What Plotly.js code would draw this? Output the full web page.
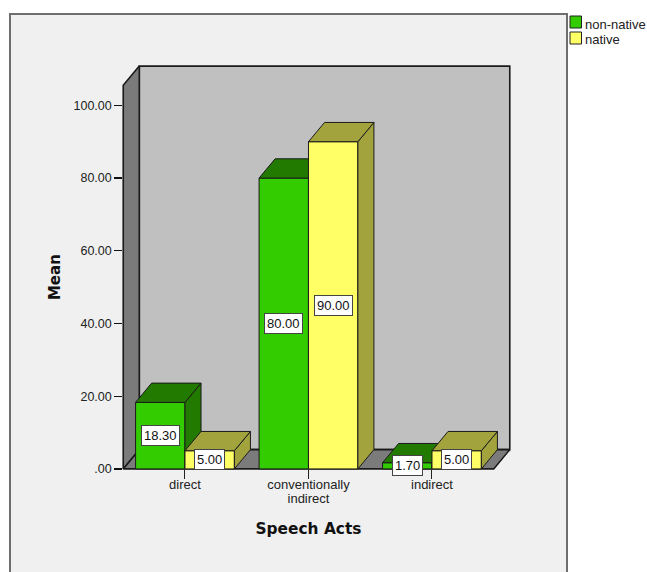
<!DOCTYPE html>
<html>
<head>
<meta charset="utf-8">
<script src="https://cdn.plot.ly/plotly-3.0.1.min.js"></script>
<style>html,body{margin:0;padding:0;background:#fff;overflow:hidden}#chart{width:647px;height:572px}</style>
</head>
<body>
<div id="chart"></div>
<script>
// Mean percentage of each speech act, by speaker group
const categories = ['direct', 'conventionally<br>indirect', 'indirect'];
const nonNative = [18.30, 80.00, 1.70];
const native = [5.00, 90.00, 5.00];
const yTickValues = [0, 20, 40, 60, 80, 100];
const yTickLabels = ['.00', '20.00', '40.00', '60.00', '80.00', '100.00'];

// Fake 3D: how far the receding faces shift, in axis units
const DEPTH_X = 0.13;
const DEPTH_Y = 5.3;
const BAR_WIDTH = 0.4;
const X_RANGE = [-0.5, 2.5];
const Y_RANGE = [0, 105.5];
// A little slack around the box so its outline is not cut by the plot clip
const PAD_X = 0.01;
const PAD_Y = 0.3;
const X_FULL = [X_RANGE[0] - PAD_X, X_RANGE[1] + DEPTH_X + PAD_X];
const Y_FULL = [Y_RANGE[0] - PAD_Y, Y_RANGE[1] + DEPTH_Y + PAD_Y];

const FONT = 'Liberation Sans, Arial, sans-serif';
const TITLE_FONT = 'DejaVu Sans, Verdana, sans-serif';
const EDGE = '#1a1a1a';

const margin = {l: 122, r: 136, t: 65, b: 102, pad: 0};
const W = 647, H = 572;
const paperX = px => (px - margin.l) / (W - margin.l - margin.r);
const paperY = py => (H - margin.b - py) / (H - margin.t - margin.b);

const positions = categories.map((_, i) => i);

// One closed polygon per entry, separated by gaps, as a filled scatter trace
function polygons(list, fill, xa, ya, lineWidth) {
  const x = [], y = [];
  list.forEach(p => {
    p.forEach(q => { x.push(q[0]); y.push(q[1]); });
    x.push(p[0][0]); y.push(p[0][1]);
    x.push(null); y.push(null);
  });
  return {
    type: 'scatter', mode: 'lines', x, y, xaxis: xa, yaxis: ya,
    fill: 'toself', fillcolor: fill,
    line: {color: EDGE, width: lineWidth || 1, shape: 'linear'},
    hoverinfo: 'skip', showlegend: false, cliponaxis: false
  };
}

// The front-plane axes only carry ticks and titles
const axisCarrier = {
  type: 'scatter', mode: 'none', x: positions, y: nonNative,
  xaxis: 'x', yaxis: 'y', hoverinfo: 'skip', showlegend: false
};

// Back wall, side wall and floor of the box
const [x0, x1] = X_RANGE;
const yTop = Y_RANGE[1];
const shell = [
  polygons([[[x0 + DEPTH_X, DEPTH_Y], [x1 + DEPTH_X, DEPTH_Y], [x1 + DEPTH_X, yTop + DEPTH_Y], [x0 + DEPTH_X, yTop + DEPTH_Y]]], '#c0c0c0', 'x2', 'y2', 1.6),
  polygons([[[x0, 0], [x0 + DEPTH_X, DEPTH_Y], [x0 + DEPTH_X, yTop + DEPTH_Y], [x0, yTop]]], '#7b7b7b', 'x2', 'y2', 1.6),
  polygons([[[x0, 0], [x1, 0], [x1 + DEPTH_X, DEPTH_Y], [x0 + DEPTH_X, DEPTH_Y]]], '#7b7b7b', 'x2', 'y2', 1.6)
];

// A bar series: front faces from a bar trace, top and side faces from polygons
function series(name, values, offset, front, shade, xa, ya) {
  const tops = [], sides = [];
  values.forEach((v, i) => {
    const l = i + offset, r = l + BAR_WIDTH;
    tops.push([[l, v], [r, v], [r + DEPTH_X, v + DEPTH_Y], [l + DEPTH_X, v + DEPTH_Y]]);
    sides.push([[r, 0], [r + DEPTH_X, DEPTH_Y], [r + DEPTH_X, v + DEPTH_Y], [r, v]]);
  });
  return [
    {
      type: 'bar', name, x: positions, y: values, xaxis: xa, yaxis: ya,
      width: BAR_WIDTH, offset,
      marker: {color: front, line: {color: EDGE, width: 1}},
      hoverinfo: 'skip', showlegend: false, cliponaxis: false
    },
    polygons(sides, shade, xa, ya),
    polygons(tops, shade, xa, ya)
  ];
}

const data = [axisCarrier].concat(
  shell,
  series('non-native', nonNative, -BAR_WIDTH, '#33cc00', '#227a00', 'x3', 'y3'),
  series('native', native, 0, '#ffff66', '#a3a33d', 'x4', 'y4')
);

// Value tags centred on each front face
const valueTag = (v, i, offset) => ({
  x: i + offset + BAR_WIDTH / 2, y: v / 2, xref: 'x', yref: 'y',
  text: v.toFixed(2), showarrow: false,
  font: {family: FONT, size: 13, color: '#111'},
  bgcolor: '#ffffff', bordercolor: '#444', borderwidth: 1, borderpad: 2
});

// Legend block beside the frame
const legendItems = [['non-native', '#33cc00', 16], ['native', '#ffff66', 32]];
const legendShapes = legendItems.map(([, color, top]) => ({
  type: 'rect', xref: 'paper', yref: 'paper', layer: 'above',
  x0: paperX(570), x1: paperX(581.5), y0: paperY(top), y1: paperY(top + 12),
  fillcolor: color, line: {color: '#222', width: 1}
}));
const legendLabels = legendItems.map(([label, , top]) => ({
  x: paperX(583), y: paperY(top + 8), xref: 'paper', yref: 'paper',
  xanchor: 'left', yanchor: 'middle', text: label, showarrow: false,
  font: {family: FONT, size: 13, color: '#222'}
}));

// Invisible axes spanning the whole box, including the receding faces
const depthX = overlay => Object.assign({range: X_FULL, visible: false, fixedrange: true, domain: [0, 1]}, overlay);
const depthY = overlay => Object.assign({range: Y_FULL, visible: false, fixedrange: true, domain: [0, 1]}, overlay);

// Position of a value inside the full box, as a fraction of the plot area
const fraction = (v, r) => (v - r[0]) / (r[1] - r[0]);

const layout = {
  width: W, height: H, margin,
  paper_bgcolor: '#ffffff', plot_bgcolor: 'rgba(0,0,0,0)',
  showlegend: false,
  barmode: 'overlay',
  xaxis: {
    domain: X_RANGE.map(v => fraction(v, X_FULL)),
    range: X_RANGE, tickmode: 'array', tickvals: positions,
    // the small base size sets the tight spacing of the wrapped label
    ticktext: categories.map(c => c.split('<br>').map(s => '<span style="font-size:13px">' + s + '</span>').join('<br>')),
    ticks: 'outside', ticklen: 9, tickwidth: 1, tickcolor: '#222', ticklabelstandoff: -3,
    showgrid: false, zeroline: false, showline: false, fixedrange: true,
    tickfont: {family: FONT, size: 10.8, color: '#222'},
    title: {text: 'Speech Acts', standoff: 18, font: {family: TITLE_FONT, size: 15.4, color: '#111', weight: 700}}
  },
  yaxis: {
    domain: Y_RANGE.map(v => fraction(v, Y_FULL)),
    range: Y_RANGE, tickmode: 'array', tickvals: yTickValues, ticktext: yTickLabels,
    ticks: 'outside', ticklen: 8, tickwidth: 1.2, tickcolor: '#111',
    showgrid: false, zeroline: false, showline: false, fixedrange: true,
    tickfont: {family: FONT, size: 12.5, color: '#222'},
    title: {text: 'Mean', standoff: 9, font: {family: TITLE_FONT, size: 15, color: '#111', weight: 700}}
  },
  xaxis2: depthX({anchor: 'y2'}), yaxis2: depthY({anchor: 'x2'}),
  xaxis3: depthX({overlaying: 'x2'}), yaxis3: depthY({overlaying: 'y2'}),
  xaxis4: depthX({overlaying: 'x2'}), yaxis4: depthY({overlaying: 'y2'}),
  shapes: [{
    type: 'rect', xref: 'paper', yref: 'paper', layer: 'below',
    x0: paperX(10), x1: paperX(567), y0: paperY(14), y1: paperY(590),
    fillcolor: '#f0f0f0', line: {color: '#6e6e6e', width: 2}
  }].concat(legendShapes),
  annotations: nonNative.map((v, i) => valueTag(v, i, -BAR_WIDTH))
    .concat(native.map((v, i) => valueTag(v, i, 0)))
    .concat(legendLabels)
};

Plotly.newPlot('chart', data, layout, {displayModeBar: false, staticPlot: true});
</script>
</body>
</html>
